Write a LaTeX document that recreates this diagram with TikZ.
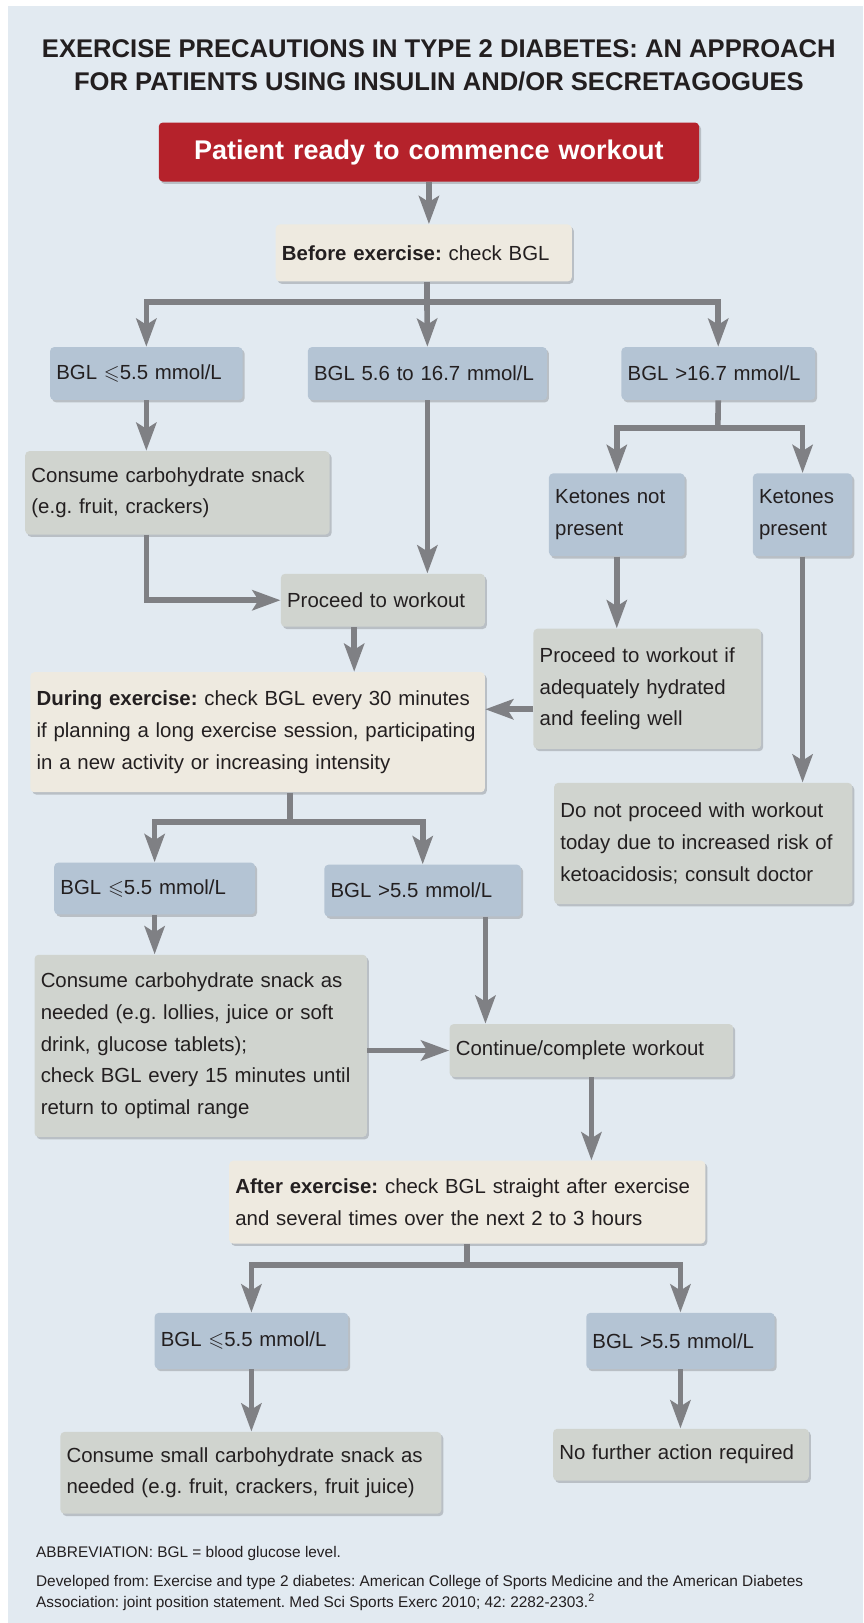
\documentclass[tikz,border=0pt]{standalone}
\usepackage{amssymb}
\usepackage{fontspec}
\setmainfont{Liberation Sans}
\usetikzlibrary{calc,arrows.meta,shadows}

\frenchspacing
\hyphenpenalty=10000
\exhyphenpenalty=10000

\newlength\px
\setlength\px{0.5175pt}

\definecolor{panelbg}{HTML}{E2EAF1}
\definecolor{startred}{HTML}{B5222B}
\definecolor{tanfill}{HTML}{EEEAE0}
\definecolor{bluefill}{HTML}{B4C4D4}
\definecolor{greyfill}{HTML}{D0D4CF}
\definecolor{linkgrey}{HTML}{7F8084}
\definecolor{ink}{HTML}{231F20}

\tikzset{
  box/.style={anchor=north west, rounded corners=2pt, inner xsep=6\px, inner ysep=2\px,
    align=left, text=ink, font=\fontsize{10.2}{15.8}\selectfont,
    drop shadow={shadow xshift=1pt, shadow yshift=-1.2pt, opacity=0.18, fill=black}},
  sz/.style 2 args={text width=#1\px, minimum height=#2\px},
  tanbox/.style={box, fill=tanfill},
  bluebox/.style={box, fill=bluefill},
  greybox/.style={box, fill=greyfill},
  link/.style={draw=linkgrey, line width=2.8pt},
  arr/.style={link, -{Stealth[length=14pt,width=10pt,inset=3pt]}},
  foot/.style={text=ink, inner sep=0pt, font=\fontsize{7.7}{10.4}\selectfont}
}

\begin{document}
\begin{tikzpicture}[x=0.5175pt, y=-0.5175pt]

    \useasboundingbox (0,0) rectangle (834,1568);
    \fill[white] (0,0) rectangle (834,1568);
    \fill[panelbg] (8,6) rectangle (834,1568);

    %%% Title %%%

    \node[text=ink, align=center, font=\fontsize{12.8}{16.6}\selectfont\bfseries] (title) at (424,63)
        {EXERCISE PRECAUTIONS IN TYPE 2 DIABETES: AN APPROACH\\
         FOR PATIENTS USING INSULIN AND/OR SECRETAGOGUES};

    \node[box, fill=startred, sz={510}{57}, align=center, text=white,
          font=\fontsize{13.5}{16}\selectfont\bfseries] (start) at (153,118)
        {Patient ready to commence workout};

    %%% Before exercise %%%

    \node[tanbox, sz={274}{55}] (before) at (266,216.5) {\textbf{Before exercise:} check BGL};

    \node[bluebox, sz={174}{51}] (bgla) at (48,335) {BGL $\leqslant$5.5 mmol/L};
    \node[bluebox, sz={219}{51}] (bglb) at (297,335) {BGL 5.6 to 16.7 mmol/L};
    \node[bluebox, sz={175}{51}] (bglc) at (600,335) {BGL >16.7 mmol/L};

    \node[greybox, sz={282}{80.5}] (snack) at (24,435.5)
        {Consume carbohydrate snack\\(e.g. fruit, crackers)};
    \node[greybox, sz={185}{51}] (proceed) at (271,554) {Proceed to workout};

    \node[bluebox, sz={119}{80}] (ketno) at (530,457) {Ketones not\\present};
    \node[bluebox, sz={84}{80}] (ketyes) at (727,457) {Ketones\\present};

    \node[greybox, sz={208}{116}] (procif) at (515,607)
        {Proceed to workout if\\adequately hydrated\\and feeling well};
    \node[greybox, sz={276}{117}] (stop) at (535,756)
        {Do not proceed with workout\\today due to increased risk of\\ketoacidosis; consult doctor};

    %%% During exercise %%%

    \node[tanbox, sz={427}{116}] (during) at (29,649)
        {\textbf{During exercise:} check BGL every 30 minutes\\
         if planning a long exercise session, participating\\
         in a new activity or increasing intensity};

    \node[bluebox, sz={182}{50}] (bgld) at (52,833) {BGL $\leqslant$5.5 mmol/L};
    \node[bluebox, sz={178}{50}] (bgle) at (313,835) {BGL >5.5 mmol/L};

    \node[greybox, sz={309}{176}] (snackb) at (33,922)
        {Consume carbohydrate snack as\\needed (e.g. lollies, juice or soft\\drink, glucose tablets);\\
         check BGL every 15 minutes until\\return to optimal range};
    \node[greybox, sz={262}{51}] (cont) at (434,989) {Continue/complete workout};

    %%% After exercise %%%

    \node[tanbox, sz={448}{80}] (after) at (221,1121)
        {\textbf{After exercise:} check BGL straight after exercise\\
         and several times over the next 2 to 3 hours};

    \node[bluebox, sz={175}{54}] (bglf) at (149,1268) {BGL $\leqslant$5.5 mmol/L};
    \node[bluebox, sz={170}{54}] (bglg) at (566,1268) {BGL >5.5 mmol/L};

    \node[greybox, sz={356}{79}] (snackc) at (58,1383)
        {Consume small carbohydrate snack as\\needed (e.g. fruit, crackers, fruit juice)};
    \node[greybox, sz={235}{50}] (nofurther) at (534,1380) {No further action required};

    %%% Footer %%%

    \node[foot, anchor=base west] (abbr) at (34.5,1505) {ABBREVIATION: BGL = blood glucose level.};
    \node[foot, anchor=base west] (src) at (34.5,1533)
        {Developed from: Exercise and type 2 diabetes: American College of Sports Medicine and the American Diabetes};
    \node[foot, anchor=base west] (srcb) at (34.5,1553)
        {Association: joint position statement. Med Sci Sports Exerc 2010; 42: 2282-2303.\textsuperscript{2}};

    %%% Connectors %%%

    \coordinate (forka) at (412.5,292);
    \coordinate (forkb) at (693.5,413.6);
    \coordinate (forkc) at (280,794);
    \coordinate (forkd) at (451,1222);
    \coordinate (hyd) at ($(procif.north west)!0.67!(procif.south west)$);
    \coordinate (pdown) at ($(proceed.south west)!0.36!(proceed.south east)$);
    \coordinate (cin) at ($(cont.north west)+(35,0)$);

    \draw[arr] (start.south) -- (start.south |- before.north);
    \draw[link] (before.south -| forka) -- (forka);
    \draw[arr] (forka) -| (bgla.north);
    \draw[arr] (forka) -- (bglb.north);
    \draw[arr] (forka) -| (bglc.north);

    \draw[arr] (bgla.south) -- (bgla.south |- snack.north);
    \draw[arr] (bgla.south |- snack.south) |- (proceed.west);
    \draw[arr] (bglb.south) -- (bglb.south |- proceed.north);

    \draw[link] (bglc.south) -- (forkb);
    \draw[arr] (forkb) -| (ketno.north);
    \draw[arr] (forkb) -| (ketyes.north);
    \draw[arr] (ketno.south) -- (ketno.south |- procif.north);
    \draw[arr] (hyd) -- (hyd -| during.east);
    \draw[arr] (ketyes.south) -- (ketyes.south |- stop.north);

    \draw[arr] (pdown) -- (pdown |- during.north);
    \draw[link] (during.south -| forkc) -- (forkc);
    \draw[arr] (forkc) -| (bgld.north);
    \draw[arr] (forkc) -| (bgle.north);

    \draw[arr] (bgld.south) -- (bgld.south |- snackb.north);
    \draw[arr] (bgle.south -| cin) -- (cin);
    \draw[arr] (snackb.east |- cont.west) -- (cont.west);
    \draw[arr] (cont.south) -- (cont.south |- after.north);

    \draw[link] (after.south -| forkd) -- (forkd);
    \draw[arr] (forkd) -| (bglf.north);
    \draw[arr] (forkd) -| (bglg.north);
    \draw[arr] (bglf.south) -- (bglf.south |- snackc.north);
    \draw[arr] (bglg.south) -- (bglg.south |- nofurther.north);

\end{tikzpicture}
\end{document}
